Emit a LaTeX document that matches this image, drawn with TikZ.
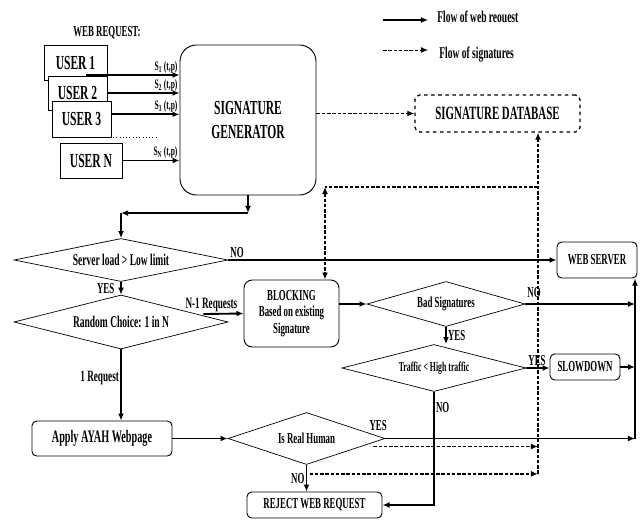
\documentclass[tikz,border=0pt]{standalone}
\usepackage{xcolor}
\usepackage{fontspec}
\setmainfont[FakeStretch=0.58]{Liberation Serif}
\usepackage{tikz}
\usetikzlibrary{shapes.geometric,arrows.meta,calc}

\newdimen\pxu
\pxu=0.03cm

\tikzset{
    flow/.style = {line width=1.6pt, -{Latex[length=6pt,width=5pt]}},
    sig/.style = {line width=1.1pt, dash pattern=on 3pt off 1.5pt, -{Latex[length=6pt,width=5pt]}},
    user/.style = {draw, fill=white, line width=0.8pt, inner sep=0pt, font=\fontsize{17}{18}\selectfont\bfseries},
    stage/.style = {draw, rounded corners=4pt, line width=0.8pt, inner sep=0pt, align=center, font=\fontsize{13}{14}\selectfont\bfseries},
    test/.style = {draw, diamond, aspect=4, inner sep=0pt, line width=0.6pt, font=\fontsize{14}{15}\selectfont\bfseries},
    answer/.style = {inner sep=1pt, font=\fontsize{13}{14}\selectfont\bfseries},
    count/.style = {inner sep=1pt, font=\fontsize{13.5}{15}\selectfont\bfseries},
    tp/.style = {inner sep=1pt, font=\fontsize{11}{12}\selectfont\bfseries},
}

\begin{document}
\begin{tikzpicture}[x=0.03cm, y=-0.03cm]
    \useasboundingbox (0,0) rectangle (641,520);

    % legend
    \coordinate (lg1) at (383,20);
    \coordinate (lg2) at (383,50);
    \node[anchor=west, answer, font=\fontsize{14}{15}\selectfont\bfseries] (lgflow) at (436,17) {Flow of web reouest};
    \node[anchor=west, answer, font=\fontsize{14}{15}\selectfont\bfseries] (lgsig) at (438,55) {Flow of signatures};
    \draw[flow, line width=1pt] (lg1) -- ++(45,0);
    \draw[sig, line width=0.8pt] (lg2) -- ++(45,0);

    % users
    \node[answer] (req) at (107,33) {WEB REQUEST:};
    \node[user, minimum width=63\pxu, minimum height=35\pxu] (u1) at (75.5,62.5) {USER 1};
    \node[user, minimum width=59\pxu, minimum height=34\pxu] (u2) at (77.5,93) {USER 2};
    \node[user, minimum width=59\pxu, minimum height=36\pxu] (u3) at (81.5,119) {USER 3};
    \draw[dotted, line width=0.8pt] (77,137) -- (157,137);
    \node[user, minimum width=62\pxu, minimum height=35\pxu] (un) at (91,160.5) {USER N};

    \node[stage, minimum width=136\pxu, minimum height=150\pxu, rounded corners=14pt,
        font=\fontsize{17}{20}\selectfont\bfseries] (gen) at (248,120) {SIGNATURE\\GENERATOR};
    \node[stage, dashed, line width=1.1pt, minimum width=165\pxu, minimum height=37\pxu,
        font=\fontsize{16}{17}\selectfont\bfseries] (db) at (497.5,113.5) {SIGNATURE DATABASE};

    \coordinate (s1) at (86,75);
    \draw[flow] (s1) -- (s1 -| gen.west) node[tp, pos=1, above left] {S\textsubscript{1} (t,p)};
    \draw[flow] (u2.east) -- (u2.east -| gen.west) node[tp, pos=1, above left] {S\textsubscript{2} (t,p)};
    \draw[flow] ([yshift=4pt]u3.east) -- ([yshift=4pt]u3.east -| gen.west) node[tp, pos=1, above left] {S\textsubscript{3} (t,p)};
    \draw[flow] (un.east) -- (un.east -| gen.west) node[tp, pos=1, above left] {S\textsubscript{N} (t,p)};
    \draw[sig] (gen.east |- db.west) -- (db.west);

    % decisions
    \node[test, minimum width=214\pxu, minimum height=43\pxu] (load) at (121,260) {Server load > Low limit};
    \node[stage, minimum width=80\pxu, minimum height=36\pxu] (web) at (597,260) {WEB SERVER};
    \coordinate (bend) at (121,213);
    \draw[flow] (gen.south) -- (gen.south |- bend);
    \draw[flow] (gen.south |- bend) -- (bend);
    \draw[flow] (bend) -- (load.north);
    \draw[flow] (load.east) -- (web.west) node[answer, pos=0, above right] {NO};

    \node[test, minimum width=214\pxu, minimum height=54\pxu] (pick) at (121,322) {Random Choice: 1 in N};
    \draw[flow] (load.south) -- (pick.north) node[answer, midway, left=4pt] {YES};

    \node[stage, minimum width=95\pxu, minimum height=67\pxu, rounded corners=7pt] (block) at (291.5,313.5) {BLOCKING\\Based on existing\\Signature};
    \draw[flow] ($(pick.east)+(-25,-8)$) -- (block.west) node[count, pos=0.2, above] {N-1 Requests};

    \node[stage, minimum width=140\pxu, minimum height=35\pxu, font=\fontsize{15}{16}\selectfont\bfseries] (ayah) at (102,438.5) {Apply AYAH Webpage};
    \draw[flow] (pick.south) -- (pick.south |- ayah.north) node[count, pos=0.4, left] {1 Request};

    \node[test, minimum width=157\pxu, minimum height=52\pxu, font=\fontsize{13}{14}\selectfont\bfseries] (human) at (306.5,438.5) {Is Real Human};
    \draw[flow] (ayah.east) -- (human.west);

    \node[test, minimum width=158\pxu, minimum height=45\pxu, font=\fontsize{13}{14}\selectfont\bfseries] (bad) at (446,304) {Bad Signatures};
    \draw[flow] (block.east |- bad.west) -- (bad.west);

    \node[test, minimum width=184\pxu, minimum height=47\pxu, font=\fontsize{11.5}{13}\selectfont\bfseries] (traffic) at (434,368) {Traffic < High traffic};
    \draw[flow] (bad.south) -- (bad.south |- traffic.north) node[answer, midway, right] {YES};

    \node[stage, minimum width=70\pxu, minimum height=26\pxu] (slow) at (585,367) {SLOWDOWN};
    \draw[flow] (traffic.east) -- (traffic.east -| slow.west) node[answer, pos=0, above right] {YES};

    \node[stage, minimum width=135\pxu, minimum height=26\pxu] (reject) at (314.5,505) {REJECT WEB REQUEST};
    \draw[flow] (traffic.south) |- (reject.east) node[answer, pos=0.07, right] {NO};
    \draw[flow] (human.south) -- (human.south |- reject.north) node[answer, midway, left] {NO};

    % right column
    \coordinate (rbot) at (635,438.5);
    \draw[flow] (rbot) -- (rbot |- web.south);
    \draw[flow] (bad.east) -- (bad.east -| rbot) node[answer, pos=0, above right, yshift=4pt] {NO};
    \draw[flow] (slow.east) -- (slow.east -| rbot);
    \draw[flow] (human.east) -- (rbot) node[answer, pos=0, above left, xshift=3pt, yshift=5pt] {YES};

    % signatures
    \coordinate (sigb) at (538,474);
    \coordinate (sigt) at (538,187);
    \coordinate (sigl) at (325,187);
    \draw[sig] (sigb) -- (sigb |- db.south);
    \draw[sig, -] (sigt) -- (sigl);
    \draw[sig, {Latex[length=6pt,width=5pt]}-{Latex[length=6pt,width=5pt]}] (sigl) -- (sigl |- block.north);
    \draw[sig] ($(human.east)+(-12,8)$) coordinate (h1) -- (h1 -| sigb);
    \draw[sig] ($(human.south)+(3,9)$) coordinate (h2) -- (h2 -| sigb);
\end{tikzpicture}
\end{document}
